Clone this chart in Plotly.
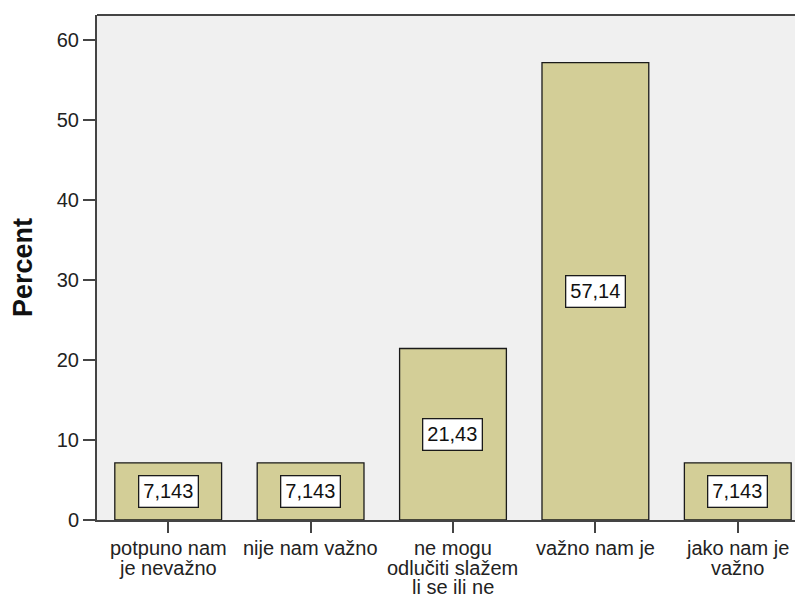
"""Bar chart of percentages per answer category (SPSS style)."""

import plotly.graph_objects as go

categories = [
    "potpuno nam\nje nevažno",
    "nije nam važno",
    "ne mogu\nodlučiti slažem\nli se ili ne",
    "važno nam je",
    "jako nam je\nvažno",
]
percent = [7.143, 7.143, 21.43, 57.14, 7.143]
y_ticks = [0, 10, 20, 30, 40, 50, 60]

FONT = "Arial, Liberation Sans, sans-serif"
BAR_COLOR = "#d3ce97"
LINE_GAP = 19.5  # SPSS uses tight line spacing for the category labels

fig = go.Figure(go.Bar(
    x=list(range(len(categories))),
    y=percent,
    width=0.75,
    marker=dict(color=BAR_COLOR, line=dict(color="#1a1a1a", width=1.3)),
    hoverinfo="skip",
))

# boxed value labels in the middle of each bar
for i, v in enumerate(percent):
    fig.add_annotation(
        x=i, y=v / 2,
        text=f"{v:.4g}".replace(".", ","),
        showarrow=False,
        bgcolor="white",
        bordercolor="#1a1a1a",
        borderwidth=1.3,
        borderpad=4,
        font=dict(family=FONT, size=20, color="#111"),
    )

# category labels, one annotation per line so the spacing stays tight
for i, label in enumerate(categories):
    for j, line in enumerate(label.split("\n")):
        fig.add_annotation(
            x=i, xref="x", y=0, yref="paper",
            yanchor="middle",
            yshift=-(28 + LINE_GAP * j),
            text=line,
            showarrow=False,
            font=dict(family=FONT, size=20, color="#222"),
        )

# top frame line
fig.add_shape(type="line", xref="paper", yref="paper",
              x0=0, x1=1, y0=1, y1=1,
              line=dict(color="#444", width=2))

fig.update_layout(
    width=795, height=591,
    margin=dict(l=89, r=0, t=7, b=79),
    plot_bgcolor="#f0f0f0",
    paper_bgcolor="white",
    font=dict(family=FONT, size=20, color="#222"),
    showlegend=False,
    xaxis=dict(
        range=[-0.5, 4.458],
        tickmode="array",
        tickvals=list(range(len(categories))),
        showticklabels=False,
        ticks="outside", ticklen=11, tickwidth=1.5, tickcolor="#444",
        showline=True, linecolor="#444", linewidth=2,
        showgrid=False, zeroline=False,
    ),
    yaxis=dict(
        range=[0, 63.1],
        tickvals=y_ticks,
        ticks="outside", ticklen=12, tickwidth=1.5, tickcolor="#444",
        showline=True, linecolor="#444", linewidth=2,
        showgrid=False, zeroline=False,
        tickfont=dict(size=20, color="#222"),
        title=dict(text="<b>Percent</b>", font=dict(size=27, color="#111"), standoff=16),
    ),
)

fig.write_html("out.html")
